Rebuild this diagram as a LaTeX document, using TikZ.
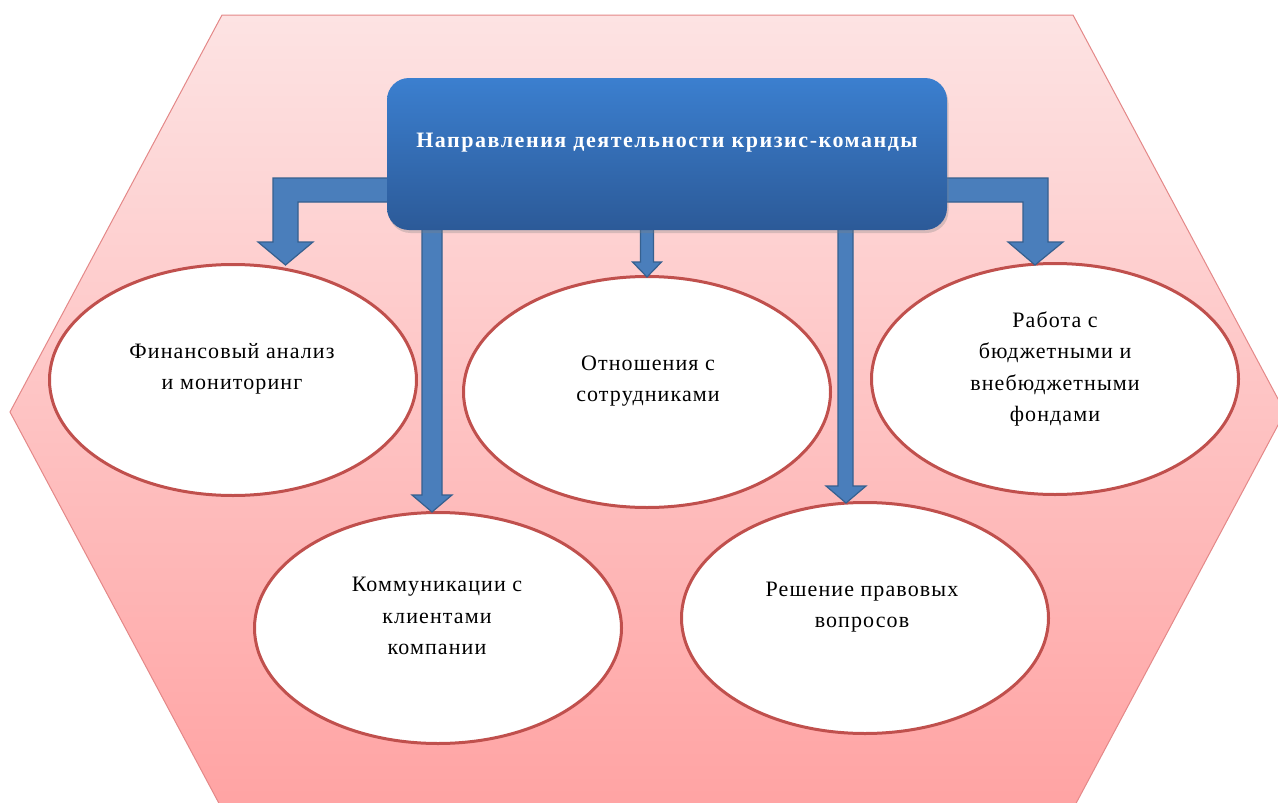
\documentclass[tikz,border=0pt]{standalone}
\usepackage{fontspec}
\setmainfont{Liberation Serif}
\newfontfamily\bodyfont[LetterSpace=5]{Liberation Serif}
\newfontfamily\headfont[LetterSpace=7]{Liberation Serif}
\usetikzlibrary{shapes.geometric,shadows}

\definecolor{hexTop}{HTML}{FDE3E3}
\definecolor{hexBot}{HTML}{FFA3A3}
\definecolor{hexLine}{HTML}{E48888}
\definecolor{boxTop}{HTML}{3B7FCF}
\definecolor{boxBot}{HTML}{2C5A98}
\definecolor{arrFill}{HTML}{4A7EBB}
\definecolor{arrLine}{HTML}{36608F}
\definecolor{ellRed}{HTML}{C0504D}

\tikzset{
  bubble/.style={ellipse, draw=ellRed, line width=3pt, fill=white,
    minimum width=367pt, minimum height=231pt, inner sep=0pt},
  bubbletext/.style={align=center, inner sep=0pt,
    font=\bodyfont\fontsize{22}{31.5}\selectfont},
  fatarrow/.style={fill=arrFill, draw=arrLine, line width=1.2pt, line join=miter},
  headbox/.style={rounded corners=22pt, top color=boxTop, bottom color=boxBot,
    draw=none, drop shadow={shadow xshift=1.5pt, shadow yshift=-3pt, opacity=.3}},
}

\begin{document}
\begin{tikzpicture}[x=1pt,y=-1pt]
\useasboundingbox (0,0) rectangle (1278,803);
\fill[white] (0,0) rectangle (1278,803);

% hexagonal backdrop
\begin{scope}
\clip (0,0) rectangle (1278,803);
\shade[top color=hexTop, bottom color=hexBot, draw=hexLine, line width=1pt]
  (222,15) -- (1073,15) -- (1285,412) -- (1073,809) -- (222,809) -- (10,412) -- cycle;
\end{scope}

% activity areas
\node[bubble] (fin) at (233,380) {};
\node[bubble] (rel) at (647,392) {};
\node[bubble] (bud) at (1055,379) {};
\node[bubble] (com) at (438,628) {};
\node[bubble] (law) at (865,618) {};

\node[bubbletext] (fint) at (232,369) {Финансовый анализ\\и мониторинг};
\node[bubbletext] (relt) at (648,381) {Отношения с\\сотрудниками};
\node[bubbletext] (budt) at (1055,369) {Работа с\\бюджетными и\\внебюджетными\\фондами};
\node[bubbletext] (comt) at (437,616) {Коммуникации с\\клиентами\\компании};
\node[bubbletext] (lawt) at (862,607) {Решение правовых\\вопросов};

% arrow tips on the ellipses
\coordinate (tipfin) at (285.5,265);
\coordinate (tiprel) at (647,277);
\coordinate (tipbud) at (1035,265);
\coordinate (tipcom) at (432,512);
\coordinate (tiplaw) at (846,503);

% block arrows from the heading
\draw[fatarrow] (400,178) -- (273,178) -- (273,242) -- (258,242) -- (tipfin)
  -- (313,242) -- (298,242) -- (298,202) -- (400,202) -- cycle;
\draw[fatarrow] (935,178) -- (1048,178) -- (1048,242) -- (1063,242) -- (tipbud)
  -- (1008,242) -- (1023,242) -- (1023,202) -- (935,202) -- cycle;
\draw[fatarrow] (640.5,220) -- (640.5,262) -- (632.5,262) -- (tiprel)
  -- (661.5,262) -- (653.5,262) -- (653.5,220) -- cycle;
\draw[fatarrow] (422,220) -- (422,495) -- (412,495) -- (tipcom)
  -- (452,495) -- (442,495) -- (442,220) -- cycle;
\draw[fatarrow] (838,220) -- (838,486) -- (826,486) -- (tiplaw)
  -- (866,486) -- (853,486) -- (853,220) -- cycle;

% heading
\path[headbox] (387,78) rectangle (947,230);
\node[text=white, inner sep=0pt, font=\headfont\bfseries\fontsize{22}{26}\selectfont]
  (head) at (667,143) {Направления деятельности кризис-команды};
\end{tikzpicture}
\end{document}
